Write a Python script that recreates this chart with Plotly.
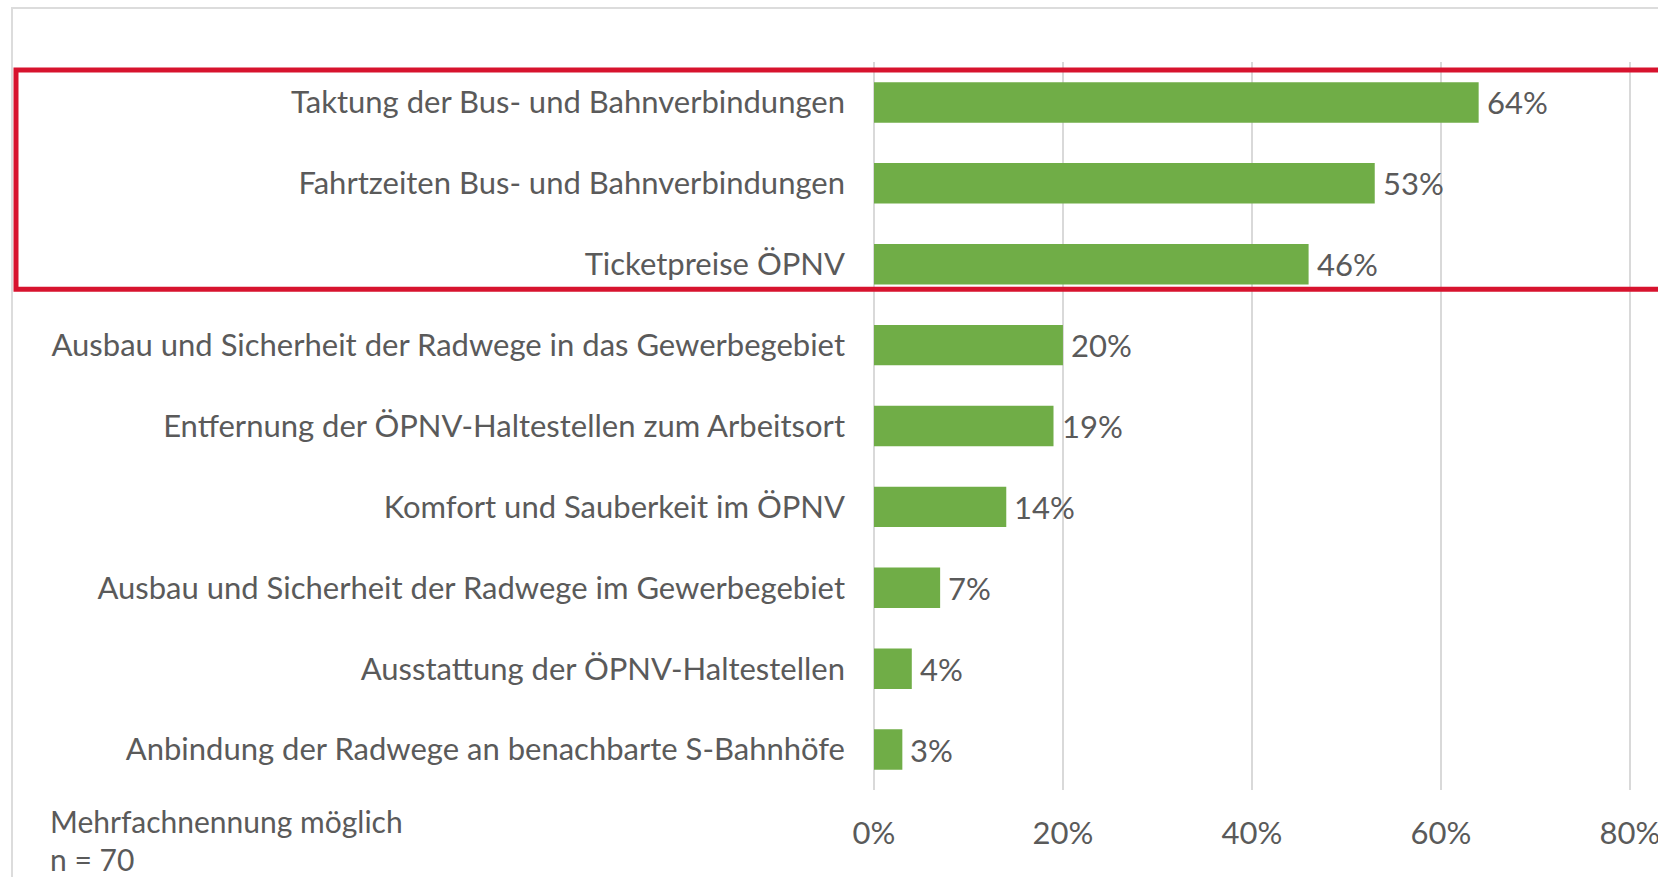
import plotly.graph_objects as go

categories = [
    "Taktung der Bus- und Bahnverbindungen",
    "Fahrtzeiten Bus- und Bahnverbindungen",
    "Ticketpreise ÖPNV",
    "Ausbau und Sicherheit der Radwege in das Gewerbegebiet",
    "Entfernung der ÖPNV-Haltestellen zum Arbeitsort",
    "Komfort und Sauberkeit im ÖPNV",
    "Ausbau und Sicherheit der Radwege im Gewerbegebiet",
    "Ausstattung der ÖPNV-Haltestellen",
    "Anbindung der Radwege an benachbarte S-Bahnhöfe",
]
values = [0.64, 0.53, 0.46, 0.20, 0.19, 0.14, 0.07, 0.04, 0.03]
value_labels = ["64%", "53%", "46%", "20%", "19%", "14%", "7%", "4%", "3%"]
tick_values = [0, 0.2, 0.4, 0.6, 0.8]
tick_labels = ["0%", "20%", "40%", "60%", "80%"]
highlighted = [0, 1, 2]
note_lines = ["Mehrfachnennung möglich", "n = 70"]

FONT = "Lato"
GRAY = "#5A5A5A"
GREEN = "#70AD47"
RED = "#D7132E"
GRID = "#D9D9D9"
FS = 31

W, H = 1658, 877
ML, MR, MT, MB = 874, 14, 62, 87

fig = go.Figure()
fig.add_trace(go.Bar(
    y=categories, x=values, orientation="h",
    marker=dict(color=GREEN, line=dict(width=0)),
    width=0.5,
    hoverinfo="skip",
))

for cat, val, lab in zip(categories, values, value_labels):
    fig.add_annotation(x=val, y=cat, xref="x", yref="y", text=lab,
                       showarrow=False, xanchor="left", yanchor="middle",
                       xshift=6, font=dict(family=FONT, size=FS, color=GRAY))

fig.update_layout(
    width=W, height=H, autosize=False,
    margin=dict(l=ML, r=MR, t=MT, b=MB, autoexpand=False),
    paper_bgcolor="white", plot_bgcolor="white",
    showlegend=False,
    font=dict(family=FONT, size=FS, color=GRAY),
    xaxis=dict(
        range=[0, 0.815], tickvals=tick_values, ticktext=tick_labels,
        showgrid=True, gridcolor=GRID, gridwidth=2,
        zeroline=True, zerolinecolor=GRID, zerolinewidth=2,
        showline=False, ticks="", ticklabelstandoff=22,
        ticklabeloverflow="allow", automargin=False,
        tickfont=dict(family=FONT, size=FS, color=GRAY),
        fixedrange=True,
    ),
    yaxis=dict(
        categoryorder="array", categoryarray=categories,
        autorange="reversed", showgrid=False, zeroline=False,
        showline=False, ticks="", ticklabelstandoff=28,
        automargin=False,
        tickfont=dict(family=FONT, size=FS, color=GRAY),
        fixedrange=True,
    ),
)

pw = W - ML - MR
ph = H - MT - MB

def px_to_paper_x(px):
    return (px - ML) / pw

def px_to_paper_y(py):
    return (H - MB - py) / ph

# outer light frame
fig.add_shape(type="rect", xref="paper", yref="paper",
              x0=px_to_paper_x(12), x1=px_to_paper_x(W + 20),
              y0=px_to_paper_y(H + 20), y1=px_to_paper_y(8),
              line=dict(color="#DCDCDC", width=2), fillcolor="rgba(0,0,0,0)", layer="below")

# red highlight box around top three categories
fig.add_shape(type="rect", xref="paper", yref="y",
              x0=px_to_paper_x(16), x1=px_to_paper_x(W + 20),
              y0=highlighted[0] - 0.40, y1=highlighted[-1] + 0.31,
              line=dict(color=RED, width=5), fillcolor="rgba(0,0,0,0)")

fig.add_annotation(xref="paper", yref="paper", x=px_to_paper_x(48), y=px_to_paper_y(821),
                   text=note_lines[0], showarrow=False, xanchor="left", yanchor="middle",
                   font=dict(family=FONT, size=FS - 1, color=GRAY))
fig.add_annotation(xref="paper", yref="paper", x=px_to_paper_x(48), y=px_to_paper_y(859),
                   text=note_lines[1], showarrow=False, xanchor="left", yanchor="middle",
                   font=dict(family=FONT, size=FS - 1, color=GRAY))

fig.write_html(
    "out.html",
    config={"responsive": False, "displayModeBar": False},
    post_script="document.body.style.margin='0';document.body.style.overflow='hidden';",
)
